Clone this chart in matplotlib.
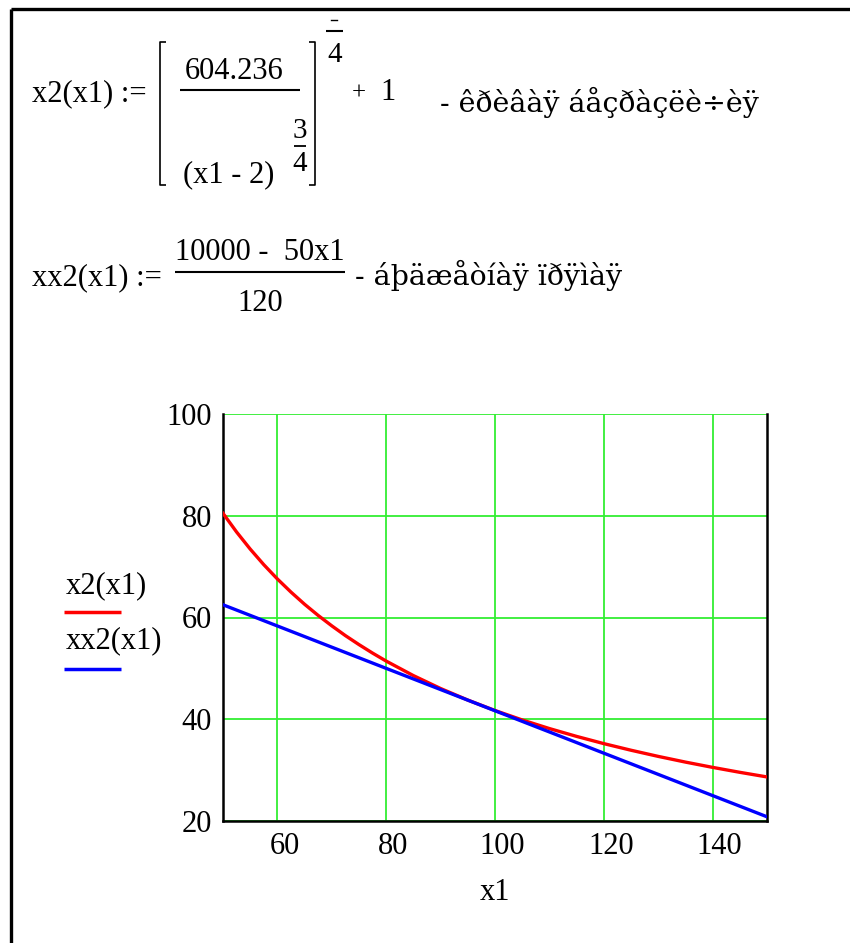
import matplotlib.pyplot as plt
from matplotlib.transforms import ScaledTranslation

plt.rcParams['font.family'] = ['Liberation Serif', 'DejaVu Serif']

# indifference curve x2(x1) and budget line xx2(x1)
x1_curve = [50, 52.5, 55, 57.5, 60, 62.5, 65, 67.5, 70, 72.5, 75, 77.5, 80, 85, 90, 95, 100,
            105, 110, 115, 120, 125, 130, 135, 140, 145, 150]
x2_curve = [80.48, 76.80, 73.45, 70.38, 67.57, 64.99, 62.60, 60.40, 58.36, 56.44, 54.67, 53.00,
            51.43, 48.58, 46.04, 43.77, 41.72, 39.86, 38.17, 36.63, 35.21, 33.91, 32.70, 31.58,
            30.54, 29.57, 28.66]
x1_budget = [50, 100, 150]
x2_budget = [62.50, 41.67, 20.83]

x_ticks = [60, 80, 100, 120, 140]
y_ticks = [20, 40, 60, 80, 100]
curve_names = ['x2(x1)', 'xx2(x1)']

FS = 22
W, H = 850, 943

fig = plt.figure(figsize=(W / 100, H / 100), dpi=100)

# page layer in pixel coordinates for the worksheet text
page = fig.add_axes([0, 0, 1, 1])
page.set_xlim(0, W)
page.set_ylim(H, 0)
page.axis('off')


def rule(xs, ys, lw=1.2):
    page.plot(xs, ys, color='black', lw=lw, solid_capstyle='butt')


def txt(x, y, s, ha='left', size=FS, family=None):
    page.text(x, y, s, ha=ha, va='baseline', fontsize=size, color='black',
              family=family)


# region frame
rule([11, W], [9, 9], lw=2.4)
rule([11, 11], [9, H], lw=2.4)

# x2(x1) := [604.236 / (x1 - 2)^(3/4)]^(5/4) + 1
txt(32, 101, 'x2(x1) :=')
rule([166, 160, 160, 166], [42, 42, 185, 185])
rule([309, 315, 315, 309], [42, 42, 185, 185])
txt(234, 79, '604.236', ha='center')
rule([180, 300], [90, 90], lw=1.5)
txt(183, 182, '(x1 - 2)')
txt(300, 138, '3', ha='center', size=FS - 1)
rule([294, 306], [146, 146], lw=1.3)
txt(300, 171, '4', ha='center', size=FS - 1)
page.plot([331, 337], [20, 20], color='black', lw=1.0)
rule([326, 343], [31, 31], lw=1.5)
txt(335, 62, '4', ha='center', size=FS - 1)
txt(352, 100, '+', size=FS - 4)
txt(380, 100, '1')
txt(440, 112, '- êðèâàÿ áåçðàçëè÷èÿ', size=20.5, family='DejaVu Serif')

# xx2(x1) := (10000 - 50x1) / 120
txt(32, 285, 'xx2(x1) :=')
txt(260, 260, '10000 -  50x1', ha='center')
rule([175, 345], [272, 272], lw=1.5)
txt(260, 311, '120', ha='center')
txt(355, 285, '- áþäæåòíàÿ ïðÿìàÿ', size=20.5, family='DejaVu Serif')

# legend beside the plot
txt(66, 593, curve_names[0])
page.plot([64, 121], [612, 612], color='#ff0000', lw=2.5, solid_capstyle='butt')
txt(66, 648, curve_names[1])
page.plot([64, 121], [669, 669], color='#0000ff', lw=2.5, solid_capstyle='butt')

# plot region
ax = fig.add_axes([223 / W, 1 - 821 / H, 544 / W, 407 / H])
ax.plot(x1_curve, x2_curve, color='#ff0000', lw=2.4, zorder=3)
ax.plot(x1_budget, x2_budget, color='#0000ff', lw=2.4, zorder=4)

ax.set_xlim(50, 150)
ax.set_ylim(20, 100)
ax.set_xticks(x_ticks)
ax.set_yticks(y_ticks)
ax.tick_params(length=0, labelsize=FS, pad=8)
ax.grid(True, color='#33ee33', lw=1.3)
ax.spines['top'].set_visible(False)
for side in ['left', 'right', 'bottom']:
    ax.spines[side].set_linewidth(1.8)
ax.set_xlabel('x1', fontsize=FS, labelpad=12)

# x tick labels sit a little right of their grid lines
shift = ScaledTranslation(7 / 100, 0, fig.dpi_scale_trans)
for lab in ax.get_xticklabels():
    lab.set_transform(lab.get_transform() + shift)

fig.savefig('out.png', dpi=100)
